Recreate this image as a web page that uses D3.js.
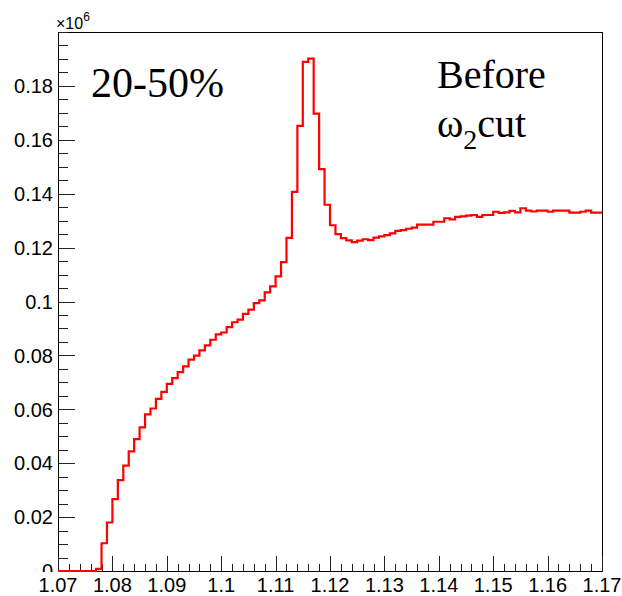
<!DOCTYPE html>
<html>
<head>
<meta charset="utf-8">
<script src="https://cdn.jsdelivr.net/npm/d3@7"></script>
<style>
  html, body { margin: 0; padding: 0; background: #fff; }
  svg { display: block; }
</style>
</head>
<body>
<div id="chart"></div>
<script>
// Histogram binning (x axis)
const xMin = 1.07, xMax = 1.17, binWidth = 0.001;

// Bin contents in units of 10^6, one per 0.001 bin from 1.070 to 1.170
const binValues = [
  0, 0, 0, 0, 0, 0, 0, 0.0008, 0.0103, 0.0180,
  0.0267, 0.0337, 0.0391, 0.0444, 0.0489, 0.0533, 0.0581, 0.0603, 0.0639, 0.0665,
  0.0694, 0.0716, 0.0738, 0.0759, 0.0784, 0.0799, 0.0819, 0.0837, 0.0858, 0.0878,
  0.0885, 0.0905, 0.0923, 0.0933, 0.0954, 0.0970, 0.0994, 0.1004, 0.1034, 0.1056,
  0.1093, 0.1146, 0.1236, 0.1407, 0.1652, 0.1889, 0.1901, 0.1697, 0.1491, 0.1359,
  0.1283, 0.1250, 0.1235, 0.1227, 0.1220, 0.1226, 0.1231, 0.1228, 0.1237, 0.1242,
  0.1246, 0.1253, 0.1262, 0.1265, 0.1270, 0.1274, 0.1285, 0.1285, 0.1285, 0.1296,
  0.1296, 0.1309, 0.1305, 0.1314, 0.1316, 0.1319, 0.1321, 0.1314, 0.1321, 0.1321,
  0.1333, 0.1329, 0.1331, 0.1336, 0.1331, 0.1346, 0.1337, 0.1334, 0.1337, 0.1337,
  0.1333, 0.1337, 0.1337, 0.1337, 0.1330, 0.1330, 0.1333, 0.1337, 0.1330, 0.1330
];

// Axis ticks
const xMajorTicks = [1.07, 1.08, 1.09, 1.1, 1.11, 1.12, 1.13, 1.14, 1.15, 1.16, 1.17];
const xTickLabels = ["1.07", "1.08", "1.09", "1.1", "1.11", "1.12", "1.13", "1.14", "1.15", "1.16", "1.17"];
const yMax = 0.2;
const yMajorTicks = [0, 0.02, 0.04, 0.06, 0.08, 0.1, 0.12, 0.14, 0.16, 0.18];
const yTickLabels = ["0", "0.02", "0.04", "0.06", "0.08", "0.1", "0.12", "0.14", "0.16", "0.18"];

const width = 622, height = 596;
const frame = { left: 58, right: 602, top: 32, bottom: 571 };

const svg = d3.select("#chart").append("svg")
    .attr("width", width)
    .attr("height", height);

// y labels get cut at the x axis line (the "0" only shows its upper part)
svg.append("clipPath").attr("id", "ylab-clip")
    .append("rect").attr("x", 0).attr("y", 0).attr("width", frame.left).attr("height", frame.bottom + 1);

const x = d3.scaleLinear().domain([xMin, xMax]).range([frame.left, frame.right]);
const y = d3.scaleLinear().domain([0, yMax]).range([frame.bottom, frame.top]);

// Minor ticks: 5 divisions on x, 4 on y
const xMinor = d3.range(0, 51).map(i => xMin + i * 0.002).filter(v => !xMajorTicks.some(t => Math.abs(t - v) < 1e-9));
const yMinor = d3.range(0, 41).map(i => i * 0.005).filter(v => v <= yMax + 1e-9 && !yMajorTicks.some(t => Math.abs(t - v) < 1e-9));

// Frame box
svg.append("rect")
    .attr("x", frame.left + 0.5)
    .attr("y", frame.top + 0.5)
    .attr("width", frame.right - frame.left)
    .attr("height", frame.bottom - frame.top)
    .attr("fill", "none")
    .attr("stroke", "#000")
    .attr("stroke-width", 1)
    .attr("shape-rendering", "crispEdges");

// x axis
const xAxisG = svg.append("g").attr("transform", `translate(0,${frame.bottom + 0.5})`);
xAxisG.call(d3.axisTop(x).tickValues(xMajorTicks).tickSize(16).tickFormat(""));
xAxisG.append("g").call(d3.axisTop(x).tickValues(xMinor).tickSize(8).tickFormat(""));
xAxisG.selectAll(".domain").remove();
xAxisG.selectAll("line").attr("stroke", "#222").attr("shape-rendering", "crispEdges");

svg.append("g")
    .selectAll("text")
    .data(xMajorTicks)
    .join("text")
    .attr("x", d => x(d))
    .attr("y", 591.5)
    .attr("text-anchor", "middle")
    .attr("font-family", "'Liberation Sans', Arial, sans-serif")
    .attr("font-size", 20)
    .attr("fill", "#000")
    .text((d, i) => xTickLabels[i]);

// y axis
const yAxisG = svg.append("g").attr("transform", `translate(${frame.left + 0.5},0)`);
yAxisG.call(d3.axisRight(y).tickValues(yMajorTicks).tickSize(16).tickFormat(""));
yAxisG.append("g").call(d3.axisRight(y).tickValues(yMinor).tickSize(9).tickFormat(""));
yAxisG.selectAll(".domain").remove();
yAxisG.selectAll("line").attr("stroke", "#222").attr("shape-rendering", "crispEdges");

svg.append("g")
    .attr("clip-path", "url(#ylab-clip)")
    .selectAll("text")
    .data(yMajorTicks)
    .join("text")
    .attr("x", 53)
    .attr("y", d => y(d))
    .attr("dy", "0.36em")
    .attr("text-anchor", "end")
    .attr("font-family", "'Liberation Sans', Arial, sans-serif")
    .attr("font-size", 20)
    .attr("fill", "#000")
    .text((d, i) => yTickLabels[i]);

// Exponent label above the y axis
const expo = svg.append("text")
    .attr("x", 56)
    .attr("y", 29)
    .attr("font-family", "'Liberation Sans', Arial, sans-serif")
    .attr("font-size", 16)
    .attr("fill", "#000");
expo.append("tspan").text("\u00d710");
expo.append("tspan").attr("dy", -8).attr("font-size", 12).text("6");

// Histogram outline
const pts = [];
binValues.forEach((v, i) => {
    const lo = xMin + i * binWidth;
    pts.push([lo, v], [lo + binWidth, v]);
});
const line = d3.line().x(d => x(d[0])).y(d => y(d[1]));

svg.append("path")
    .datum(pts)
    .attr("d", line)
    .attr("fill", "none")
    .attr("stroke", "#ff0000")
    .attr("stroke-width", 2.2)
    .attr("stroke-linejoin", "miter");

// Annotations
const serif = "'Liberation Serif', 'Times New Roman', serif";
svg.append("text")
    .attr("x", 91)
    .attr("y", 97)
    .attr("font-family", serif)
    .attr("font-size", 42)
    .attr("fill", "#000")
    .text("20-50%");

svg.append("text")
    .attr("x", 437)
    .attr("y", 88)
    .attr("font-family", serif)
    .attr("font-size", 40)
    .attr("fill", "#000")
    .text("Before");

const cut = svg.append("text")
    .attr("x", 437)
    .attr("y", 137)
    .attr("font-family", serif)
    .attr("font-size", 40)
    .attr("fill", "#000");
cut.append("tspan").text("\u03c9");
cut.append("tspan").attr("dy", 12).attr("font-size", 28).text("2");
cut.append("tspan").attr("dy", -12).text("cut");
</script>
</body>
</html>
